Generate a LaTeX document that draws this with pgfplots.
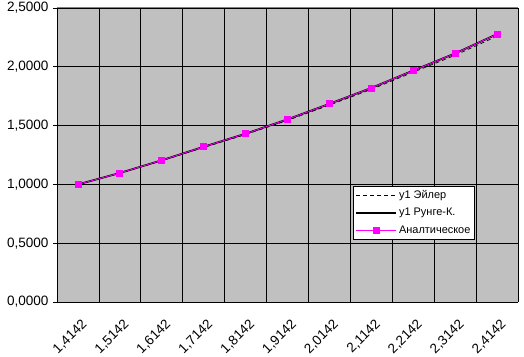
\documentclass[border=0pt]{standalone}
\usepackage{pgfplots}
\pgfplotsset{compat=1.18}
\usepackage{fontspec}
\setmainfont{Liberation Sans}
\definecolor{plotgray}{HTML}{C0C0C0}
\definecolor{bordergray}{HTML}{808080}
\definecolor{mag}{HTML}{FF00FF}
\begin{document}
\begin{tikzpicture}
\path[use as bounding box] (-57bp,-55bp) rectangle (467bp,302bp);
\begin{axis}[
  scale only axis,
  width=461bp, height=294bp,
  at={(0,0)}, anchor=south west,
  xmin=-0.5, xmax=10.5,
  ymin=0, ymax=2.5,
  axis x line*=bottom, axis y line*=left,
  axis line style={black, line width=0.8bp},
  axis background/.style={fill=plotgray},
  xtick={0,...,10},
  xticklabels={{1,4142},{1,5142},{1,6142},{1,7142},{1,8142},{1,9142},{2,0142},{2,1142},{2,2142},{2,3142},{2,4142}},
  minor xtick={-0.5,0.5,...,10.5},
  xmajorgrids=false, xminorgrids=true, ymajorgrids=true,
  grid style={black, line width=0.8bp},
  minor grid style={black, line width=0.8bp},
  ytick={0,0.5,...,2.5},
  yticklabels={{0,0000},{0,5000},{1,0000},{1,5000},{2,0000},{2,5000}},
  tick align=outside,
  major tick length=4bp, minor tick length=4bp,
  x tick style={draw=none},
  minor x tick style={black, line width=0.8bp},
  y tick style={black, line width=0.8bp},
  tick label style={font=\fontsize{13.6}{15}\selectfont},
  xticklabel style={rotate=45, anchor=north east, xshift=-3bp, yshift=-7bp},
  yticklabel style={xshift=-1bp},
  legend style={at={(0.642,0.395)}, anchor=north west, draw=black, fill=white,
    line width=0.6bp,
    font=\fontsize{11}{12}\selectfont, inner sep=2bp, row sep=4.5bp,
    legend cell align=left},
  legend image code/.code={\draw[mark repeat=2,mark phase=2,#1] plot coordinates {(0bp,0bp) (20bp,0bp) (40bp,0bp)};},
]
\addplot[black, line width=0.7bp, dash pattern=on 4bp off 3bp] coordinates {
(0,1.000) (1,1.095) (2,1.201) (3,1.314) (4,1.424) (5,1.544) (6,1.674) (7,1.808) (8,1.954) (9,2.098) (10,2.260)};
\addlegendentry{y1 Эйлер}
\addplot[black, line width=1.8bp] coordinates {
(0,1.000) (1,1.097) (2,1.205) (3,1.320) (4,1.431) (5,1.553) (6,1.685) (7,1.820) (8,1.968) (9,2.114) (10,2.278)};
\addlegendentry{y1 Рунге-К.}
\addplot[mag, line width=0.8bp, mark=square*, mark size=3bp, mark options={fill=mag, draw=mag}] coordinates {
(0,1.000) (1,1.097) (2,1.205) (3,1.320) (4,1.431) (5,1.553) (6,1.685) (7,1.820) (8,1.968) (9,2.114) (10,2.278)};
\addlegendentry{Аналтическое}
\draw[bordergray, line width=1bp] (rel axis cs:0,1) -- (rel axis cs:1,1);
\end{axis}
\end{tikzpicture}
\end{document}
